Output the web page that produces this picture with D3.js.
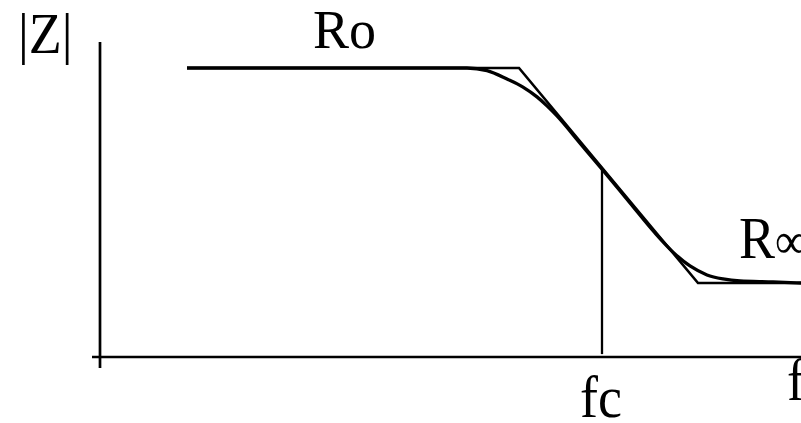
<!DOCTYPE html>
<html>
<head>
<meta charset="utf-8">
<script src="https://cdn.jsdelivr.net/npm/d3@7/dist/d3.min.js"></script>
<style>
  html, body { margin: 0; padding: 0; background: #fff; }
  svg { display: block; }
</style>
</head>
<body>
<svg id="chart" width="801" height="423"></svg>
<script>
// Impedance magnitude |Z| versus frequency f (schematic, arbitrary units)
const curveFreq = [0.87, 3.67, 3.87, 4.07, 4.23, 4.37, 4.47, 4.57, 4.80, 5.02, 5.30, 5.55, 5.73, 5.90, 6.07, 6.23, 6.40, 6.73, 7.01];
const curveMag  = [1.00, 1.00, 0.991, 0.962, 0.934, 0.900, 0.869, 0.834, 0.740, 0.650, 0.533, 0.429, 0.363, 0.315, 0.284, 0.270, 0.263, 0.260, 0.256];

// Straight-line asymptotes: Ro plateau, roll-off, R∞ plateau
const asymFreq = [0.87, 4.19, 5.98, 7.01];
const asymMag  = [1.00, 1.00, 0.256, 0.256];

// Corner frequency
const fc = 5.02;
const fcMag = 0.654;

const SERIF = "'Liberation Serif', 'Times New Roman', Times, 'DejaVu Serif', serif";

const svg = d3.select("#chart");
const x = d3.scaleLinear().domain([0, 7.01]).range([100, 801]);
const y = d3.scaleLinear().domain([0, 1]).range([357, 68]);

// Axes
svg.append("line")
  .attr("x1", x(0)).attr("x2", x(0))
  .attr("y1", y(1.09)).attr("y2", y(-0.038))
  .attr("stroke", "#000").attr("stroke-width", 2.7);
svg.append("line")
  .attr("x1", x(-0.08)).attr("x2", x(7.01))
  .attr("y1", y(0)).attr("y2", y(0))
  .attr("stroke", "#000").attr("stroke-width", 2.7);

// fc marker
svg.append("line")
  .attr("x1", x(fc)).attr("x2", x(fc))
  .attr("y1", y(fcMag)).attr("y2", y(0.01))
  .attr("stroke", "#000").attr("stroke-width", 2.3);

// Asymptotes
const asym = asymFreq.map((f, i) => [f, asymMag[i]]);
svg.append("path")
  .datum(asym)
  .attr("d", d3.line().x(d => x(d[0])).y(d => y(d[1])))
  .attr("fill", "none").attr("stroke", "#000").attr("stroke-width", 2.6)
  .attr("stroke-linejoin", "miter");

// Smooth response
const resp = curveFreq.map((f, i) => [f, curveMag[i]]);
svg.append("path")
  .datum(resp)
  .attr("d", d3.line().curve(d3.curveMonotoneX).x(d => x(d[0])).y(d => y(d[1])))
  .attr("fill", "none").attr("stroke", "#000").attr("stroke-width", 3.3);

// Labels
const labels = [
  { t: "|Z|", x: 18, y: 53, s: 1.06 },
  { t: "Ro",  x: 313, y: 48, s: 1.0 },
  { t: "fc",  x: 580, y: 417, s: 1.1 },
  { t: "f",   x: 787, y: 400, s: 1.1 },
];
labels.forEach(l => {
  svg.append("text")
    .attr("transform", `translate(${l.x},${l.y}) scale(1,${l.s})`)
    .attr("font-family", SERIF)
    .attr("font-size", 54)
    .attr("fill", "#000")
    .text(l.t);
});
const rinf = svg.append("text")
  .attr("transform", `translate(739,258) scale(1,1.1)`)
  .attr("font-family", SERIF)
  .attr("font-size", 54)
  .attr("fill", "#000");
rinf.append("tspan").text("R");
rinf.append("tspan").attr("font-size", 46).text("∞");
</script>
</body>
</html>
